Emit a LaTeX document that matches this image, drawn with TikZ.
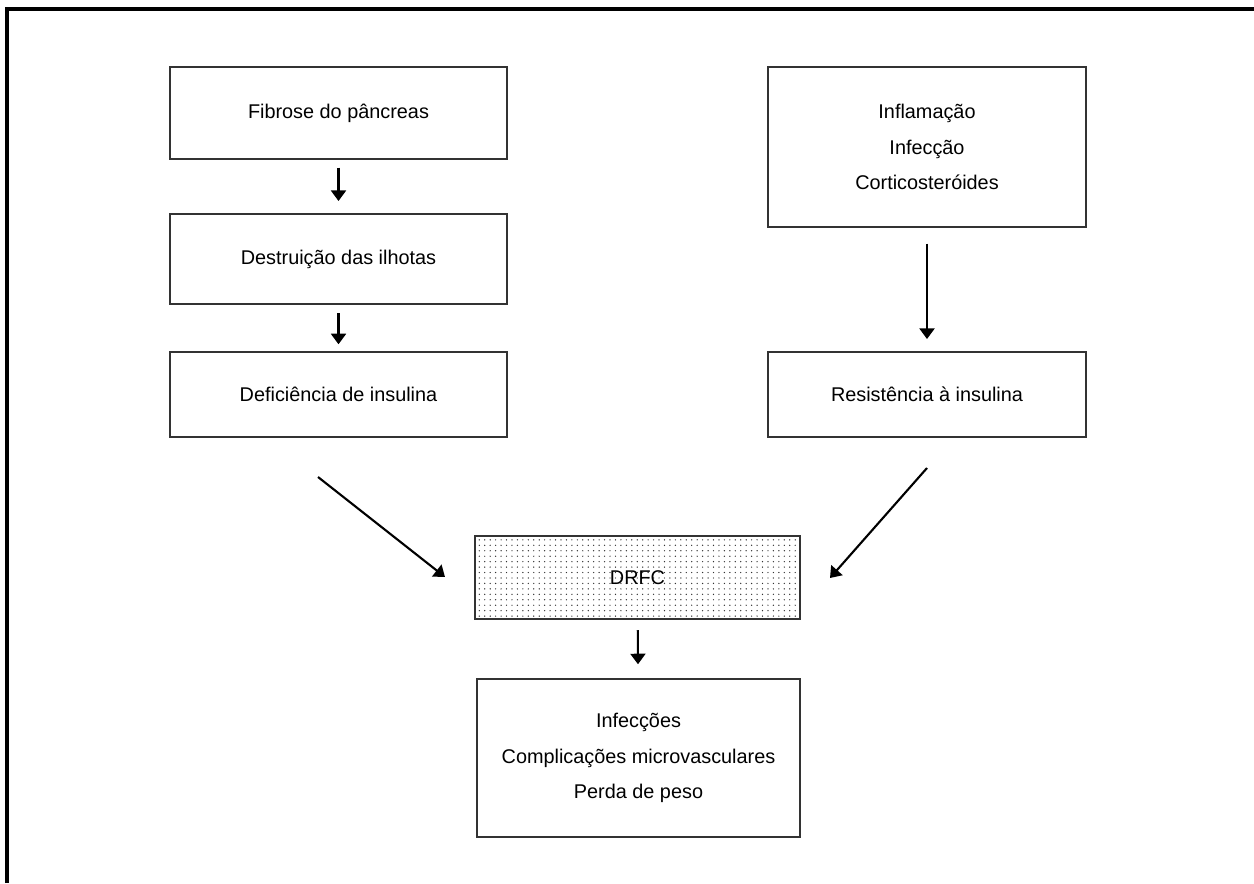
\documentclass[tikz,border=0pt]{standalone}
\usepackage{fontspec}
\setmainfont{Liberation Sans}
\usetikzlibrary{arrows.meta,patterns.meta}

\begin{document}
\begin{tikzpicture}[x=0.02cm,y=-0.02cm,
	caixa/.style={draw=black!80, line width=0.8pt, minimum width=6.74cm, inner sep=0pt, align=center, font=\fontsize{11.3pt}{20pt}\selectfont},
	seta/.style={-{Triangle[length=6pt,width=8.5pt]}, line width=1.2pt}]
	\useasboundingbox (0,0) rectangle (1254,883);
	\draw[line width=1.8pt] (7,883) -- (7,9) -- (1254,9);
	\node[caixa, minimum height=1.84cm] (fibrose) at (338.5,113) {Fibrose do pâncreas};
	\node[caixa, minimum height=1.8cm] (destruicao) at (338.5,259) {Destruição das ilhotas};
	\node[caixa, minimum height=1.7cm] (deficiencia) at (338.5,394.5) {Deficiência de insulina};
	\node[caixa, minimum width=6.36cm, minimum height=3.2cm] (fatores) at (927,147) {Inflamação\\Infecção\\Corticosteróides};
	\node[caixa, minimum width=6.36cm, minimum height=1.7cm] (resistencia) at (927,394.5) {Resistência à insulina};
	\node[caixa, minimum width=6.5cm, minimum height=1.66cm, pattern={Dots[distance=3.1pt, radius=0.4pt]}, pattern color=black!80] (drfc) at (637.5,577.5) {};
	\node[font=\fontsize{11.3pt}{20pt}\selectfont] (rotulo) at (drfc.center) {DRFC};
	\node[caixa, minimum width=6.46cm, minimum height=3.16cm] (efeitos) at (638.5,758) {Infecções\\Complicações microvasculares\\Perda de peso};
	\coordinate (ini1) at (318,477);
	\coordinate (fim1) at (445,577);
	\coordinate (ini2) at (927,468);
	\coordinate (fim2) at (830,578);
	\draw[seta, shorten <=4.5pt, shorten >=7pt] (fibrose) -- (destruicao);
	\draw[seta, shorten <=5pt, shorten >=4pt] (destruicao) -- (deficiencia);
	\draw[seta, shorten <=9pt, shorten >=7pt] (fatores) -- (resistencia);
	\draw[seta] (ini1) -- (fim1);
	\draw[seta] (ini2) -- (fim2);
	\draw[seta, shorten <=6pt, shorten >=8pt] (drfc) -- (efeitos);
\end{tikzpicture}
\end{document}
